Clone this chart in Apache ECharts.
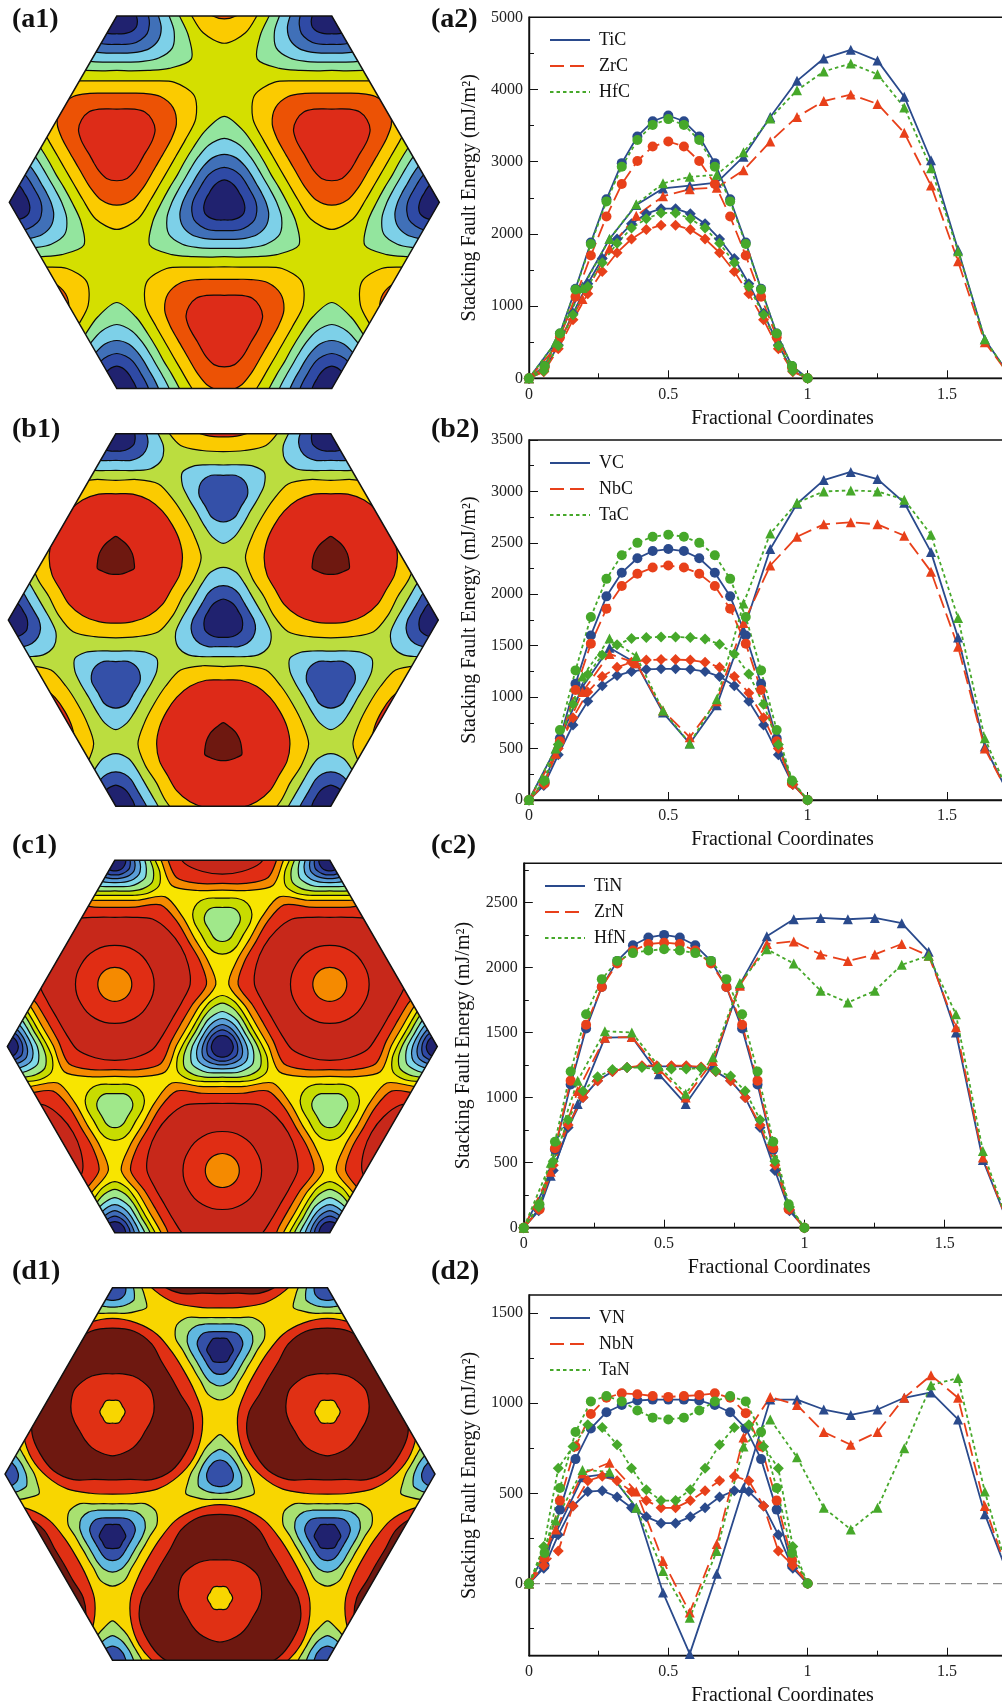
<!DOCTYPE html>
<html><head><meta charset="utf-8">
<style>html,body{margin:0;padding:0;background:#fff;overflow:hidden}#c{width:1002px;height:1706px}</style>
<script src="https://cdn.jsdelivr.net/npm/echarts@6/dist/echarts.min.js"></script>
</head><body><div id="c"></div>
<script>
// ---------- fractional coordinates of the three paths ----------
const xCir=[0,0.056,0.111,0.167,0.222,0.278,0.333,0.389,0.444,0.5,0.556,0.611,0.667,0.722,0.778,0.833,0.889,0.944,1];
const xDia=[0,0.053,0.105,0.158,0.211,0.263,0.316,0.368,0.421,0.474,0.526,0.579,0.632,0.684,0.737,0.789,0.842,0.895,0.947,1];
const xTri=[0,0.096,0.192,0.289,0.385,0.481,0.577,0.674,0.770,0.866,0.962,1.058,1.155,1.251,1.347,1.443,1.540,1.636,1.732];
// ---------- (a2) ----------
const TiC_tri=[0,500,1270,1930,2400,2630,2670,2710,3070,3620,4120,4430,4550,4400,3900,3020,1780,540,0];
const ZrC_tri=[0,430,1100,1800,2250,2520,2620,2640,2880,3280,3620,3840,3930,3800,3400,2670,1620,500,0];
const HfC_tri=[0,500,1250,1930,2410,2700,2790,2820,3130,3600,3990,4250,4360,4210,3750,2910,1760,540,0];
const TiC_cir=[0,170,620,1240,1880,2480,2980,3350,3560,3640,3560,3350,2980,2480,1880,1240,620,170,0];
const ZrC_cir=[0,150,570,1130,1700,2240,2690,3010,3210,3280,3210,3010,2690,2240,1700,1130,570,150,0];
const HfC_cir=[0,170,620,1230,1860,2450,2930,3300,3510,3590,3510,3300,2930,2450,1860,1230,620,170,0];
const TiC_dia=[0,100,460,900,1310,1660,1930,2140,2280,2350,2350,2280,2140,1930,1660,1310,900,460,100,0];
const ZrC_dia=[0,90,410,810,1170,1480,1740,1930,2060,2120,2120,2060,1930,1740,1480,1170,810,410,90,0];
const HfC_dia=[0,100,450,880,1270,1600,1870,2080,2210,2290,2290,2210,2080,1870,1600,1270,880,450,100,0];
// ---------- (b2) ----------
const VC_tri=[0,500,1100,1480,1330,850,550,920,1650,2440,2880,3110,3190,3120,2890,2410,1580,520,0];
const NbC_tri=[0,450,1050,1420,1330,870,610,960,1720,2280,2560,2680,2700,2680,2570,2220,1490,500,0];
const TaC_tri=[0,500,1200,1570,1400,870,550,980,1910,2590,2890,3000,3010,3000,2920,2580,1770,600,0];
const VC_cir=[0,170,600,1130,1600,1980,2210,2350,2420,2440,2420,2350,2210,1980,1600,1130,600,170,0];
const NbC_cir=[0,160,570,1070,1520,1860,2080,2200,2260,2280,2260,2200,2080,1860,1520,1070,570,160,0];
const TaC_cir=[0,190,680,1260,1780,2150,2380,2500,2560,2580,2560,2500,2380,2150,1780,1260,680,190,0];
const VC_dia=[0,140,440,730,960,1110,1210,1250,1270,1275,1275,1270,1250,1200,1110,960,730,440,150,0];
const NbC_dia=[0,150,500,800,1050,1200,1290,1340,1360,1365,1365,1360,1340,1290,1200,1040,800,500,150,0];
const TaC_dia=[0,180,540,930,1220,1410,1510,1570,1580,1585,1585,1580,1565,1515,1420,1225,930,540,180,0];
// ---------- (c2) ----------
const TiN_tri=[0,400,950,1460,1465,1180,950,1250,1870,2240,2370,2380,2370,2380,2340,2120,1500,520,0];
const ZrN_tri=[0,430,1050,1460,1465,1220,1000,1280,1860,2180,2200,2100,2050,2100,2180,2090,1540,540,0];
const HfN_tri=[0,500,1130,1510,1500,1240,1030,1310,1880,2140,2030,1820,1730,1820,2020,2090,1640,590,0];
const TiN_cir=[0,150,600,1100,1530,1850,2050,2170,2230,2250,2230,2170,2050,1850,1530,1100,600,150,0];
const ZrN_cir=[0,140,610,1130,1560,1850,2030,2130,2180,2190,2180,2130,2030,1850,1560,1130,610,140,0];
const HfN_cir=[0,180,660,1200,1640,1910,2050,2110,2130,2140,2130,2110,2050,1910,1640,1200,660,180,0];
const TiN_dia=[0,130,440,770,1000,1130,1200,1230,1240,1240,1240,1240,1230,1200,1130,1000,770,440,130,0];
const ZrN_dia=[0,140,480,790,1000,1130,1200,1230,1245,1245,1245,1245,1235,1200,1130,1000,790,480,140,0];
const HfN_dia=[0,160,510,830,1050,1160,1215,1230,1230,1220,1220,1220,1225,1205,1165,1050,830,510,160,0];
// ---------- (d2) ----------
const VN_tri=[0,280,590,610,420,-50,-390,55,530,1020,1020,965,935,965,1030,1060,910,385,0];
const NbN_tri=[0,300,610,670,510,125,-160,220,810,1035,990,840,770,840,1030,1155,1030,430,0];
const TaN_tri=[0,350,630,620,420,70,-190,180,760,910,700,420,300,420,750,1100,1140,510,0];
const VN_cir=[0,100,410,690,860,950,990,1015,1020,1020,1020,1015,990,950,860,690,410,100,0];
const NbN_cir=[0,140,460,760,940,1030,1055,1050,1040,1035,1040,1045,1055,1030,945,760,460,130,0];
const TaN_cir=[0,170,530,840,1010,1040,1010,960,920,910,920,960,1010,1040,1010,840,530,170,0];
const VN_dia=[0,85,270,430,510,515,480,420,370,335,335,370,420,480,515,510,430,270,85,0];
const NbN_dia=[0,100,180,430,570,595,570,510,460,420,420,460,515,570,595,570,430,180,100,0];
const TaN_dia=[0,205,640,760,880,865,770,640,520,460,460,520,640,770,865,880,760,640,205,0];
const zeroX=[0,1.82], zeroY=[0,0];
// ---------- tick values ----------
const xTitle='Fractional Coordinates', yTitle='Stacking Fault Energy (mJ/m²)';
const ticksA=[0,1000,2000,3000,4000,5000], minorA=[500,1500,2500,3500,4500];
const ticksB=[0,500,1000,1500,2000,2500,3000,3500], minorB=[250,750,1250,1750,2250,2750,3250];
const ticksC=[0,500,1000,1500,2000,2500], minorC=[250,750,1250,1750,2250,2750];
const ticksD=[0,500,1000,1500], minorD=[-250,250,750,1250];
const namesA=['TiC','ZrC','HfC'], namesB=['VC','NbC','TaC'], namesC=['TiN','ZrN','HfN'], namesD=['VN','NbN','TaN'];
// ---------- contour rings: radius from the site at 0,15,30,45,60 deg from "up" (outer to inner) ----------
const a1Min=[[258,222,188,170,163],[192,178,157,143,138],[144,138,125,115,111],[105,101,95,88,85],[67,64,59,55,53]];
const a1MinC=['#93e59e','#7dd0e8','#4070b8','#2f4aa5','#20226f'];
const a1Max=[[178,184,205,245,268],[141,146,162,185,195],[93,97,107,119,122]];
const a1MaxC=['#fbcb00','#ec5205','#dd2c18'];
const b1Min=[[158,148,127,114,110],[103,100,92,83,80],[63,60,57,54,52]];
const b1MinC=['#7fd0ea','#3450a8','#20226f'];
const b1Mid=[[93,97,108,127,142],[62,65,72,76,78]];
const b1MidC=['#7fd0ea','#3450a8'];
const b1Max=[[232,243,256,245,240],[192,198,200,198,196],[64,57,53,51,50]];
const b1MaxC=['#fbcb00','#dd2a18','#6e1810'];
const c1Min=[[153,140,121,109,105],[130,120,106,96,92],[105,98,90,82,79],[84,80,74,69,67],[66,63,59,56,55],[50,48,46,45,44],[33,33,33,32,32]];
const c1MinC=['#c8dc00','#a0e88a','#80d8e8','#5a9ed8','#3f6cb8','#2f48a5','#20226f'];
const c1Mid=[[73,76,84,92,95],[45,47,52,56,57]];
const c1MidC=['#c8dc00','#a0e88a'];
const c1Max=[[252,261,303,287,276],[231,240,275,265,256],[201,208,226,228,228],[117,118,118,118,117],[51,51,51,51,51]];
const c1MaxC=['#f58a00','#e02d14','#c7281a','#e02d14','#f58a00'];
const d1Min=[[118,100,88,79,76],[74,68,63,59,58],[42,41,40,38,38]];
const d1MinC=['#a8e070','#60b8e0','#3450a8'];
const d1Mid=[[97,101,112,138,150],[78,81,90,102,108],[55,57,63,71,73],[35,37,40,38,37]];
const d1MidC=['#a8e070','#60b8e0','#3450a8','#20226f'];
const d1Max=[[280,276,268,253,247],[251,250,235,210,204],[114,118,124,128,132],[34,36,38,36,34]];
const d1MaxC=['#e03014','#6e1810','#e03014','#f8d600'];
const bgA='#d4df00', bgB='#bbdd3f', bgC='#f8e500', bgD='#f8d600';
// ---------- styles ----------
const BLUE='#2a4a8c', RED='#e8401a', GREEN='#46a82a', FONT='"Liberation Serif","Times New Roman",serif';
const SIDE=645, ROW=558.6, OFFSET=372;
const series=[], grid=[], xAxis=[], yAxis=[], legend=[], graphic=[];

function zip(xs,ys){return xs.map((x,i)=>[x,ys[i]]);}
function lineSeries(g,name,color,dash,symbol,xs,ys){
  series.push({type:'line',name,xAxisIndex:g,yAxisIndex:g,data:zip(xs,ys),color,symbol,symbolSize:symbol==='circle'?10:(symbol==='diamond'?11:10),
    showSymbol:true,showAllSymbol:true,silent:true,animation:false,itemStyle:{color,opacity:1},
    lineStyle:{color,width:1.8,type:dash}});
}
function chart(g,box,ymin,ymax,ticks,minor,names,sets,legTop,legLeft,unit){
  const bottom=box.bottom, top=box.top;
  grid.push({left:box.left,top,width:1.82*unit,height:bottom-top,show:true,borderColor:'#111',borderWidth:1.4,outerBoundsMode:'none'});
  xAxis[g]={type:'value',gridIndex:g,min:0,max:1.82,interval:0.5,position:'bottom',name:xTitle,nameLocation:'middle',nameGap:30,
    nameTextStyle:{fontFamily:FONT,fontSize:20,color:'#111'},
    axisLine:{onZero:false,lineStyle:{color:'#111',width:1.4}},
    axisTick:{inside:true,length:8,lineStyle:{color:'#111',width:1}},
    minorTick:{show:true,splitNumber:2,length:5,lineStyle:{color:'#111',width:1}},
    axisLabel:{show:true,margin:8,fontFamily:FONT,fontSize:16,color:'#222',showMaxLabel:false,formatter:v=>String(v)},splitLine:{show:false},minorSplitLine:{show:false}};
  yAxis[g]={type:'value',gridIndex:g,min:ymin,max:ymax,position:'left',name:yTitle,nameLocation:'middle',nameGap:box.nameGap,
    nameTextStyle:{fontFamily:FONT,fontSize:20,color:'#111'},
    axisLine:{onZero:false,lineStyle:{color:'#111',width:1.4}},
    axisTick:{inside:true,length:9,customValues:ticks,lineStyle:{color:'#111',width:1}},
    axisLabel:{margin:6,fontFamily:FONT,fontSize:16,color:'#222',customValues:ticks,formatter:v=>String(v)},splitLine:{show:false}};
  yAxis[g+8]={type:'value',gridIndex:g,min:ymin,max:ymax,position:'left',
    axisLine:{show:false,onZero:false},axisLabel:{show:false},
    axisTick:{show:true,inside:true,length:5,customValues:minor,lineStyle:{color:'#111',width:1}},splitLine:{show:false}};
  const styles=[[BLUE,'solid'],[RED,[14,6]],[GREEN,[3.5,3]]];
  names.forEach((n,i)=>{
    const s=sets[i];
    lineSeries(g,n,styles[i][0],styles[i][1],'triangle',xTri,s[0]);
    lineSeries(g,n,styles[i][0],styles[i][1],'circle',xCir,s[1]);
    lineSeries(g,n,styles[i][0],styles[i][1],'diamond',xDia,s[2]);
  });
  legend.push({data:names,orient:'vertical',left:legLeft,top:legTop,itemWidth:40,itemHeight:14,itemGap:8,selectedMode:false,
    itemStyle:{opacity:0},textStyle:{fontFamily:FONT,fontSize:18,color:'#111',padding:[0,0,0,4]}});
}
chart(0,{left:529,top:17.3,bottom:378.3,nameGap:49},0,5000,ticksA,minorA,namesA,
  [[TiC_tri,TiC_cir,TiC_dia],[ZrC_tri,ZrC_cir,ZrC_dia],[HfC_tri,HfC_cir,HfC_dia]],26,544,278.6);
chart(1,{left:529,top:440,bottom:800,nameGap:49},0,3500,ticksB,minorB,namesB,
  [[VC_tri,VC_cir,VC_dia],[NbC_tri,NbC_cir,NbC_dia],[TaC_tri,TaC_cir,TaC_dia]],449,544,278.6);
chart(2,{left:523.8,top:863.3,bottom:1227.7,nameGap:50},0,2800,ticksC,minorC,namesC,
  [[TiN_tri,TiN_cir,TiN_dia],[ZrN_tri,ZrN_cir,ZrN_dia],[HfN_tri,HfN_cir,HfN_dia]],872,539,280.6);
chart(3,{left:529,top:1295,bottom:1655.7,nameGap:49},-400,1600,ticksD,minorD,namesD,
  [[VN_tri,VN_cir,VN_dia],[NbN_tri,NbN_cir,NbN_dia],[TaN_tri,TaN_cir,TaN_dia]],1304,544,278.6);
series.push({type:'line',name:'zero',xAxisIndex:3,yAxisIndex:3,data:zip(zeroX,zeroY),symbol:'none',silent:true,animation:false,z:1,
  lineStyle:{color:'#8a8a8a',width:1.3,type:[11,5]}});

// ---------- contour maps ----------
function hexCorners(api){
  return [[-SIDE,0],[-SIDE/2,ROW],[SIDE/2,ROW],[SIDE,0],[SIDE/2,-ROW],[-SIDE/2,-ROW]].map(p=>api.coord(p));
}
function ringRows(site,rings,colorStart){
  const rows=[];
  rings.forEach((r,k)=>{
    for(let a=-2;a<=2;a++)for(let b=-2;b<=2;b++){
      const x=a*SIDE+b*SIDE/2, y=site+b*ROW;
      if(Math.abs(x)<1000&&Math.abs(y)<900) rows.push([x,y].concat(r,[colorStart+k]));
    }
  });
  return rows;
}
function hexPanel(g,cx,cy,bg,parts){
  const idx=4+g;
  grid.push({left:cx-215,top:cy-186.2,width:430,height:372.4,show:false,outerBoundsMode:'none'});
  xAxis[idx]={type:'value',gridIndex:idx,min:-SIDE,max:SIDE,show:false};
  yAxis[idx]={type:'value',gridIndex:idx,min:-ROW,max:ROW,show:false};
  let palette=[], rows=[];
  parts.forEach(p=>{ rows=rows.concat(ringRows(p[0],p[1],palette.length)); palette=palette.concat(p[2]); });
  series.push({type:'custom',xAxisIndex:idx,yAxisIndex:idx,silent:true,animation:false,clip:false,data:[[0,0]],encode:{x:0,y:1},
    renderItem:(params,api)=>({type:'polygon',shape:{points:hexCorners(api)},style:{fill:bg,stroke:null}})});
  series.push({type:'custom',xAxisIndex:idx,yAxisIndex:idx,silent:true,animation:false,clip:false,data:rows,encode:{x:0,y:1},
    renderItem:(params,api)=>{
      const x=api.value(0), y=api.value(1), pts=[];
      for(let k=0;k<24;k++){
        const deg=k*15; let t=deg%120; if(t>60)t=120-t;
        const r=api.value(2+Math.round(t/15)), rad=deg*Math.PI/180;
        pts.push(api.coord([x+r*Math.sin(rad),y+r*Math.cos(rad)]));
      }
      return {type:'polygon',shape:{points:pts,smooth:0.3},style:{fill:palette[api.value(7)],stroke:'#0a0a0a',lineWidth:1.2},
        clipPath:{type:'polygon',shape:{points:hexCorners(api)}}};
    }});
  series.push({type:'custom',xAxisIndex:idx,yAxisIndex:idx,silent:true,animation:false,clip:false,data:[[0,0]],encode:{x:0,y:1},
    renderItem:(params,api)=>({type:'polygon',shape:{points:hexCorners(api)},style:{fill:null,stroke:'#111',lineWidth:1.5}})});
}
hexPanel(0,224.3,202.3,bgA,[[0,a1Min,a1MinC],[-OFFSET,a1Max,a1MaxC]]);
hexPanel(1,223.3,620,bgB,[[0,b1Min,b1MinC],[OFFSET,b1Mid,b1MidC],[-OFFSET,b1Max,b1MaxC]]);
hexPanel(2,222.3,1046.5,bgC,[[0,c1Min,c1MinC],[OFFSET,c1Mid,c1MidC],[-OFFSET,c1Max,c1MaxC]]);
hexPanel(3,220,1474,bgD,[[0,d1Min,d1MinC],[OFFSET,d1Mid,d1MidC],[-OFFSET,d1Max,d1MaxC]]);

// ---------- panel labels ----------
[['(a1)',12,21],['(a2)',431,21],['(b1)',12,431],['(b2)',431,431],['(c1)',12,847],['(c2)',431,847],['(d1)',12,1273],['(d2)',431,1273]].forEach(l=>{
  graphic.push({type:'text',left:l[1],top:l[2]-15,silent:true,style:{text:l[0],fontFamily:FONT,fontWeight:'bold',fontSize:28,fill:'#111'}});
});

const chartInst=echarts.init(document.getElementById('c'),null,{renderer:'canvas',width:1002,height:1706});
chartInst.setOption({animation:false,backgroundColor:'#fff',grid,xAxis,yAxis,legend,series,graphic,tooltip:{show:false}});
</script></body></html>
